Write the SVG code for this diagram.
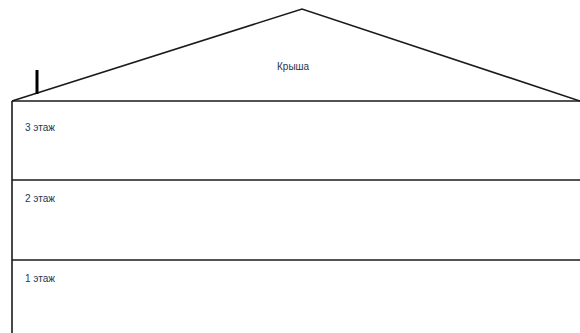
<svg xmlns="http://www.w3.org/2000/svg" width="580" height="333" viewBox="0 0 580 333">
<style>
.ln{stroke:#1a1a1a;stroke-width:1.6;fill:none}
.t{font-family:"Liberation Sans",Arial,sans-serif;font-size:10px;fill:#2a3550}
</style>
<rect width="580" height="333" fill="#fff"/>
<g id="roof">
<polyline class="ln" points="12,101 302,9 580,101"/>
<line class="ln" x1="37" y1="70" x2="37" y2="94" style="stroke-width:3;stroke:#000"/>
<text class="t" x="277" y="70">Крыша</text>
</g>
<g id="floor3">
<line class="ln" x1="12" y1="101" x2="580" y2="101"/>
<text class="t" x="25" y="131">3 этаж</text>
</g>
<g id="floor2">
<line class="ln" x1="12" y1="180" x2="580" y2="180"/>
<text class="t" x="25" y="202">2 этаж</text>
</g>
<g id="floor1">
<line class="ln" x1="12" y1="260" x2="580" y2="260"/>
<text class="t" x="25" y="282">1 этаж</text>
</g>
<g id="walls">
<line class="ln" x1="12" y1="101" x2="12" y2="333"/>
</g>
</svg>
